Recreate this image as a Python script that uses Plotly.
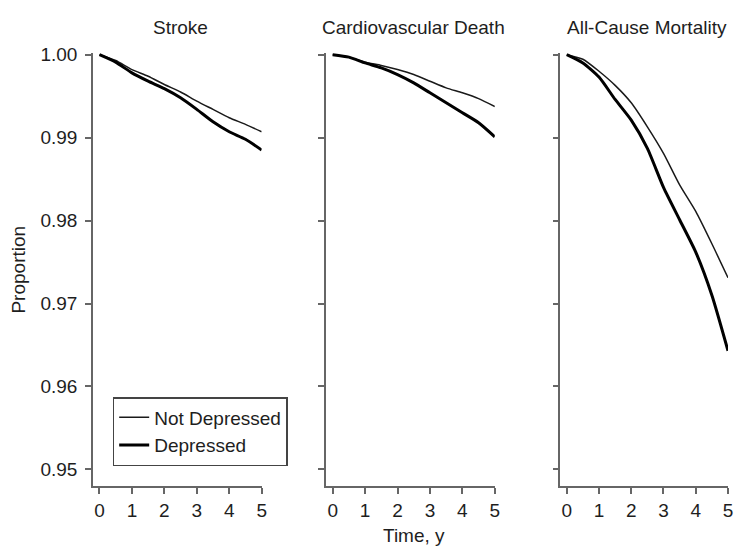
import plotly.graph_objects as go

time_y = [0, 0.5, 1, 1.5, 2, 2.5, 3, 3.5, 4, 4.5, 5]

stroke_not_dep = [1.0, 0.9993, 0.9982, 0.9974, 0.9964, 0.9955, 0.9944, 0.9934, 0.9924, 0.9916, 0.9907]
stroke_dep = [1.0, 0.9991, 0.9978, 0.9968, 0.9959, 0.9948, 0.9934, 0.9919, 0.9907, 0.9898, 0.9885]

cv_not_dep = [1.0, 0.9997, 0.9991, 0.9987, 0.9982, 0.9976, 0.9968, 0.9960, 0.9954, 0.9947, 0.99375]
cv_dep = [1.0, 0.9997, 0.9990, 0.9984, 0.9976, 0.9966, 0.9954, 0.9942, 0.9930, 0.9918, 0.9901]

all_not_dep = [1.0, 0.99945, 0.9980, 0.9963, 0.9942, 0.9913, 0.9881, 0.9843, 0.9811, 0.9772, 0.9731]
all_dep = [1.0, 0.9990, 0.9973, 0.9946, 0.9921, 0.9887, 0.9840, 0.9801, 0.9762, 0.9710, 0.9643]

panel_titles = ["Stroke", "Cardiovascular Death", "All-Cause Mortality"]
series_names = ["Not Depressed", "Depressed"]
y_ticks = [0.95, 0.96, 0.97, 0.98, 0.99, 1.00]
y_tick_text = ["0.95", "0.96", "0.97", "0.98", "0.99", "1.00"]
x_ticks = [0, 1, 2, 3, 4, 5]

FONT = "Liberation Sans, Arial, sans-serif"
AX = "#666666"
TXT = "#1e1e1e"

panels = [(stroke_not_dep, stroke_dep), (cv_not_dep, cv_dep), (all_not_dep, all_dep)]
domains = [[0.0, 0.2656], [0.3672, 0.6328], [0.7359, 1.0]]

fig = go.Figure()
for i, (nd, d) in enumerate(panels):
    sfx = "" if i == 0 else str(i + 1)
    fig.add_trace(go.Scatter(x=time_y, y=nd, mode="lines", name=series_names[0],
                             line=dict(color="#1a1a1a", width=1.5, shape="spline", smoothing=0.6),
                             xaxis="x" + sfx, yaxis="y" + sfx, showlegend=(i == 0)))
    fig.add_trace(go.Scatter(x=time_y, y=d, mode="lines", name=series_names[1],
                             line=dict(color="#000000", width=3, shape="spline", smoothing=0.6),
                             xaxis="x" + sfx, yaxis="y" + sfx, showlegend=(i == 0)))

layout = dict(
    width=742, height=546,
    margin=dict(l=93, r=9, t=53, b=60),
    paper_bgcolor="white", plot_bgcolor="white",
    font=dict(family=FONT, size=19, color=TXT),
    legend=dict(x=0.031, y=0.2055, xanchor="left", yanchor="top",
                bordercolor="#444444", borderwidth=1.5, bgcolor="white",
                font=dict(size=19), itemwidth=30, tracegroupgap=0),
    showlegend=True,
)
for i in range(3):
    sfx = "" if i == 0 else str(i + 1)
    layout["xaxis" + sfx] = dict(
        domain=domains[i], range=[-0.2, 5], anchor="y" + sfx,
        tickvals=x_ticks, ticks="outside", ticklen=6, tickwidth=1.5, tickcolor=AX,
        showline=True, linecolor=AX, linewidth=1.5, showgrid=False, zeroline=False,
        tickfont=dict(size=19, color=TXT, family=FONT),
    )
    layout["yaxis" + sfx] = dict(
        domain=[0, 1], range=[0.948, 1.0002], anchor="x" + sfx,
        tickvals=y_ticks, ticktext=y_tick_text, ticks="outside", ticklen=6,
        tickwidth=1.5, tickcolor=AX, showticklabels=(i == 0), ticklabelstandoff=4,
        showline=True, linecolor=AX, linewidth=1.5, showgrid=False, zeroline=False,
        tickfont=dict(size=19, color=TXT, family=FONT),
    )
fig.update_layout(**layout)

for i, title in enumerate(panel_titles):
    sfx = "" if i == 0 else str(i + 1)
    fig.add_annotation(text=title, x=2.5, xref="x" + sfx, y=1.06, yref="paper",
                       showarrow=False, font=dict(size=19, color=TXT, family=FONT),
                       xanchor="center", yanchor="middle")

fig.add_annotation(text="Proportion", x=-0.118, xref="paper", y=0.50, yref="paper",
                   showarrow=False, textangle=-90, xanchor="center", yanchor="middle",
                   font=dict(size=19, color=TXT, family=FONT))

fig.add_annotation(text="Time, y", x=2.5, xref="x2", y=-0.115, yref="paper",
                   showarrow=False, xanchor="center", yanchor="middle",
                   font=dict(size=19, color=TXT, family=FONT))

fig.write_html("out.html")
